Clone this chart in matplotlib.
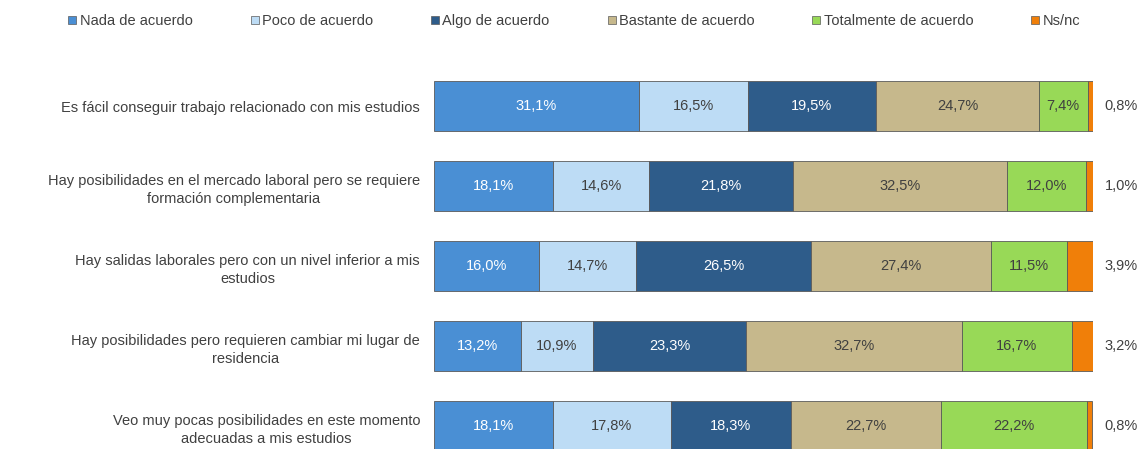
import numpy as np
import matplotlib
matplotlib.use("Agg")
from matplotlib import pyplot as plt
from matplotlib.lines import Line2D

plt.rcParams['font.family'] = ['Liberation Sans', 'DejaVu Sans']

categories = [
    "Es fácil conseguir trabajo relacionado con mis estudios",
    "Hay posibilidades en el mercado laboral pero se requiere\nformación complementaria",
    "Hay salidas laborales pero con un nivel inferior a mis\nestudios",
    "Hay posibilidades pero requieren cambiar mi lugar de\nresidencia",
    "Veo muy pocas posibilidades en este momento\nadecuadas a mis estudios",
]
series_names = ["Nada de acuerdo", "Poco de acuerdo", "Algo de acuerdo",
                "Bastante de acuerdo", "Totalmente de acuerdo", "Ns/nc"]
nada = [31.1, 18.1, 16.0, 13.2, 18.1]
poco = [16.5, 14.6, 14.7, 10.9, 17.8]
algo = [19.5, 21.8, 26.5, 23.3, 18.3]
bastante = [24.7, 32.5, 27.4, 32.7, 22.7]
totalmente = [7.4, 12.0, 11.5, 16.7, 22.2]
nsnc = [0.8, 1.0, 3.9, 3.2, 0.8]

colors = ["#4A8FD4", "#BDDCF5", "#2E5C8A", "#C6B88C", "#98D957", "#F07F09"]
text_colors = ["white", "#404040", "white", "#404040", "#404040", "#404040"]

fig = plt.figure(figsize=(11.4, 4.49), dpi=100)
ax = fig.add_axes([0.3807, 0.0, 0.578, 0.853])

y = np.arange(len(categories))
left = np.zeros(len(categories))
for k, vals in enumerate([nada, poco, algo, bastante, totalmente, nsnc]):
    vals = np.array(vals)
    ax.barh(y, vals, left=left, height=0.625, color=colors[k],
            edgecolor="#5a5a5a", linewidth=0.6)
    for i, v in enumerate(vals):
        label = f"{v:.1f}%".replace(".", ",")
        if k == 5:
            ax.text(left[i] + v + 1.8, y[i], label, ha="left", va="center",
                    fontsize=10.5, color="#404040")
        else:
            ax.text(left[i] + v / 2, y[i], label, ha="center", va="center",
                    fontsize=10.5, color=text_colors[k])
    left += vals

ax.set_xlim(0, 100)
ax.set_ylim(4.2875, -0.5)
ax.set_yticks(y)
ax.set_yticklabels(categories, fontsize=10.5, color="#404040",
                   multialignment="center", linespacing=1.45)
ax.tick_params(axis="y", length=0, pad=10)
ax.set_xticks([])
for s in ax.spines.values():
    s.set_visible(False)

handles = [Line2D([], [], marker="s", linestyle="none", markersize=6,
                  markerfacecolor=c, markeredgecolor="#5a5a5a", markeredgewidth=0.5)
           for c in colors]
fig.legend(handles, series_names, loc="center", bbox_to_anchor=(0.503, 0.953),
           ncol=6, frameon=False, fontsize=10.5, handletextpad=0.1,
           columnspacing=3.85, handlelength=0.8, labelcolor="#404040")

fig.savefig("out.png", dpi=100)
